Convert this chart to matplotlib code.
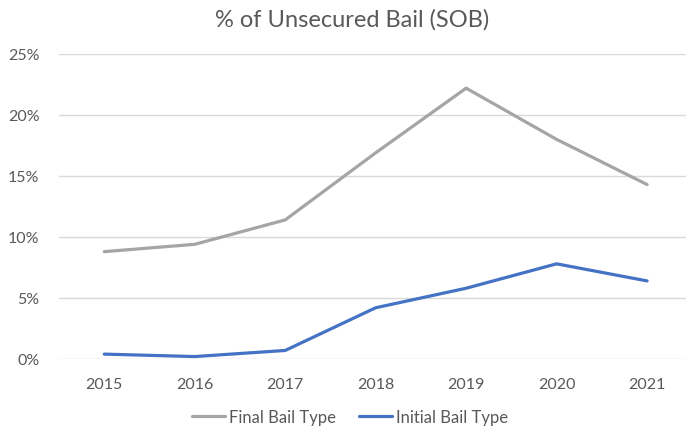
import matplotlib; matplotlib.use("Agg")
import matplotlib.pyplot as plt
from matplotlib.ticker import PercentFormatter

plt.rcParams.update({"font.family": ["Lato", "DejaVu Sans"], "text.color": "#595959"})

years = ["2015", "2016", "2017", "2018", "2019", "2020", "2021"]
final_bail = [8.8, 9.4, 11.4, 16.9, 22.2, 18.0, 14.3]
initial_bail = [0.4, 0.2, 0.7, 4.2, 5.8, 7.8, 6.4]

W, H = 686, 427
fig = plt.figure(figsize=(W/100, H/100), dpi=100)
ax = fig.add_axes([59/W, (H-360)/H, (686-59)/W, (360-55)/H])
x = range(len(years))
ax.plot(x, final_bail, color="#a5a5a5", lw=2.3, label="Final Bail Type", solid_capstyle="round")
ax.plot(x, initial_bail, color="#4472c4", lw=2.3, label="Initial Bail Type", solid_capstyle="round")

ax.set_xlim(-0.5, 6.43); ax.set_ylim(0, 25)
ax.set_yticks(range(0, 26, 5))
ax.yaxis.set_major_formatter(PercentFormatter(decimals=0))
ax.set_xticks(list(x)); ax.set_xticklabels(years)
ax.grid(axis="y", color="#d9d9d9", lw=1)
ax.set_axisbelow(True)
for s in ax.spines.values(): s.set_visible(False)
ax.tick_params(length=0, labelsize=11.5, colors="#595959")
ax.tick_params(axis="x", pad=13); ax.tick_params(axis="y", pad=14)

fig.text(352/W, 1-20/H, "% of Unsecured Bail (SOB)", ha="center", va="center", fontsize=17, color="#595959")
fig.legend(loc="center", bbox_to_anchor=(350/W, 1-418/H), ncol=2, frameon=False,
           fontsize=12, handlelength=2.0, handletextpad=0.2, columnspacing=1.4)
fig.savefig("out.png", dpi=100)
